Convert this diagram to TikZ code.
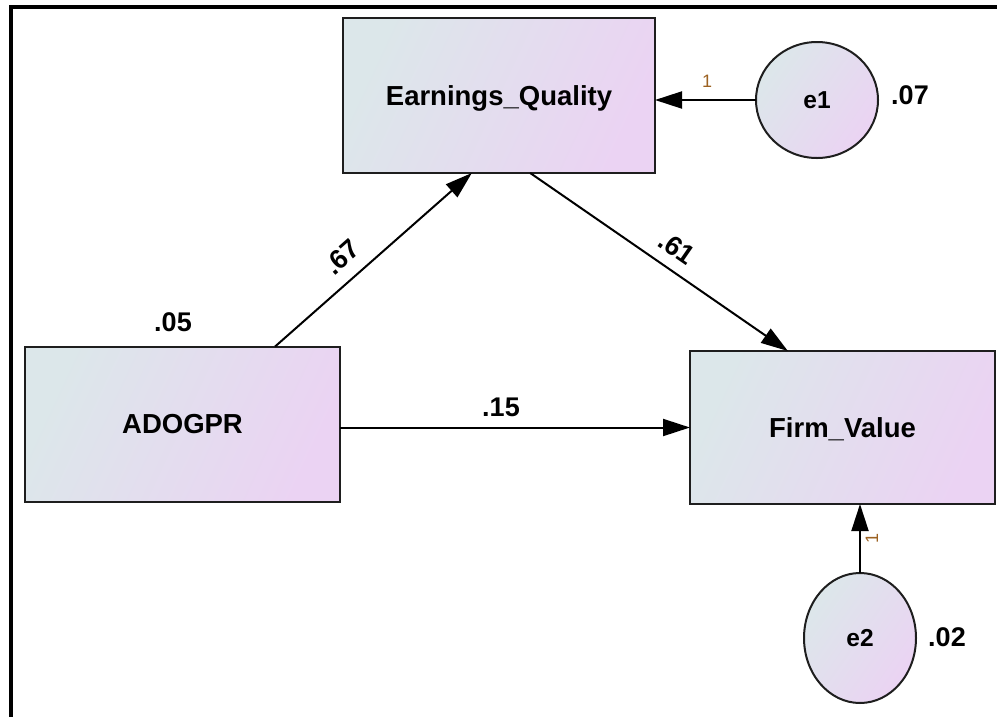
\documentclass[tikz,border=0pt]{standalone}
\usepackage{fontspec}
\setmainfont{Liberation Sans}
\usetikzlibrary{arrows.meta,calc,shapes.geometric}

\definecolor{fillA}{HTML}{DCE7EA}
\definecolor{fillB}{HTML}{EBD3F3}
\definecolor{edgegray}{HTML}{1E1E1E}
\definecolor{fixlab}{HTML}{9C6222}

\tikzset{
  observed/.style={draw=edgegray, line width=2pt, left color=fillA, right color=fillB,
    shading angle=65, inner sep=0pt, outer sep=0pt, text depth=0pt,
    font=\fontsize{27.5}{32}\selectfont\bfseries},
  errvar/.style={ellipse, draw=edgegray, line width=2pt, left color=fillA, right color=fillB,
    shading angle=55, inner sep=0pt, outer sep=0pt,
    font=\fontsize{24.5}{29}\selectfont\bfseries},
  path arrow/.style={draw=black, line width=2pt, -{Triangle[length=27pt,width=17pt]}},
  coef/.style={font=\fontsize{27}{31}\selectfont\bfseries, inner sep=0pt},
  fixed/.style={font=\fontsize{18}{21}\selectfont, text=fixlab, inner sep=0pt}
}

\begin{document}
\begin{tikzpicture}[x=1pt,y=-1pt]
\useasboundingbox (0,0) rectangle (997,716);

% outer frame (top and left edges)
\draw[line width=4pt, line join=miter] (1005,7) -- (11,7) -- (11,725);

% observed variables
\node[observed, minimum width=312pt, minimum height=155pt] (eq) at (499,95.5) {Earnings\_Quality};
\node[observed, minimum width=315pt, minimum height=155pt] (adogpr) at (182.5,424) {ADOGPR};
\node[observed, minimum width=305pt, minimum height=153pt] (fv) at (842.5,427.5) {Firm\_Value};

% error terms
\node[errvar, minimum width=122pt, minimum height=116pt] (e1) at (817,100) {e1};
\node[errvar, minimum width=112pt, minimum height=130pt] (e2) at (860,638) {e2};

% regression paths
\draw[path arrow] ($(adogpr.north west)!0.794!(adogpr.north east)$) -- ($(eq.south west)!0.413!(eq.south east)$);
\draw[path arrow] ($(eq.south west)!0.6!(eq.south east)$) -- ($(fv.north west)!0.321!(fv.north east)$);
\draw[path arrow] (adogpr.east |- fv.west) -- (fv.west);
\draw[path arrow] (e1.west) -- (e1.west -| eq.east);
\draw[path arrow] (e2.north) -- (e2.north |- fv.south);

% estimates
\node[coef, rotate=41.5] (c67) at (342,257) {.67};
\node[coef, rotate=-34.6] (c61) at (677,248) {.61};
\node[coef] (c15) at (501,407) {.15};
\node[coef] (c05) at (173,322) {.05};
\node[coef] (c07) at (910,95) {.07};
\node[coef] (c02) at (947,637) {.02};

% fixed error loadings
\node[fixed] (f1) at (707,81) {1};
\node[fixed, rotate=90] (f2) at (872,538) {1};
\end{tikzpicture}
\end{document}
